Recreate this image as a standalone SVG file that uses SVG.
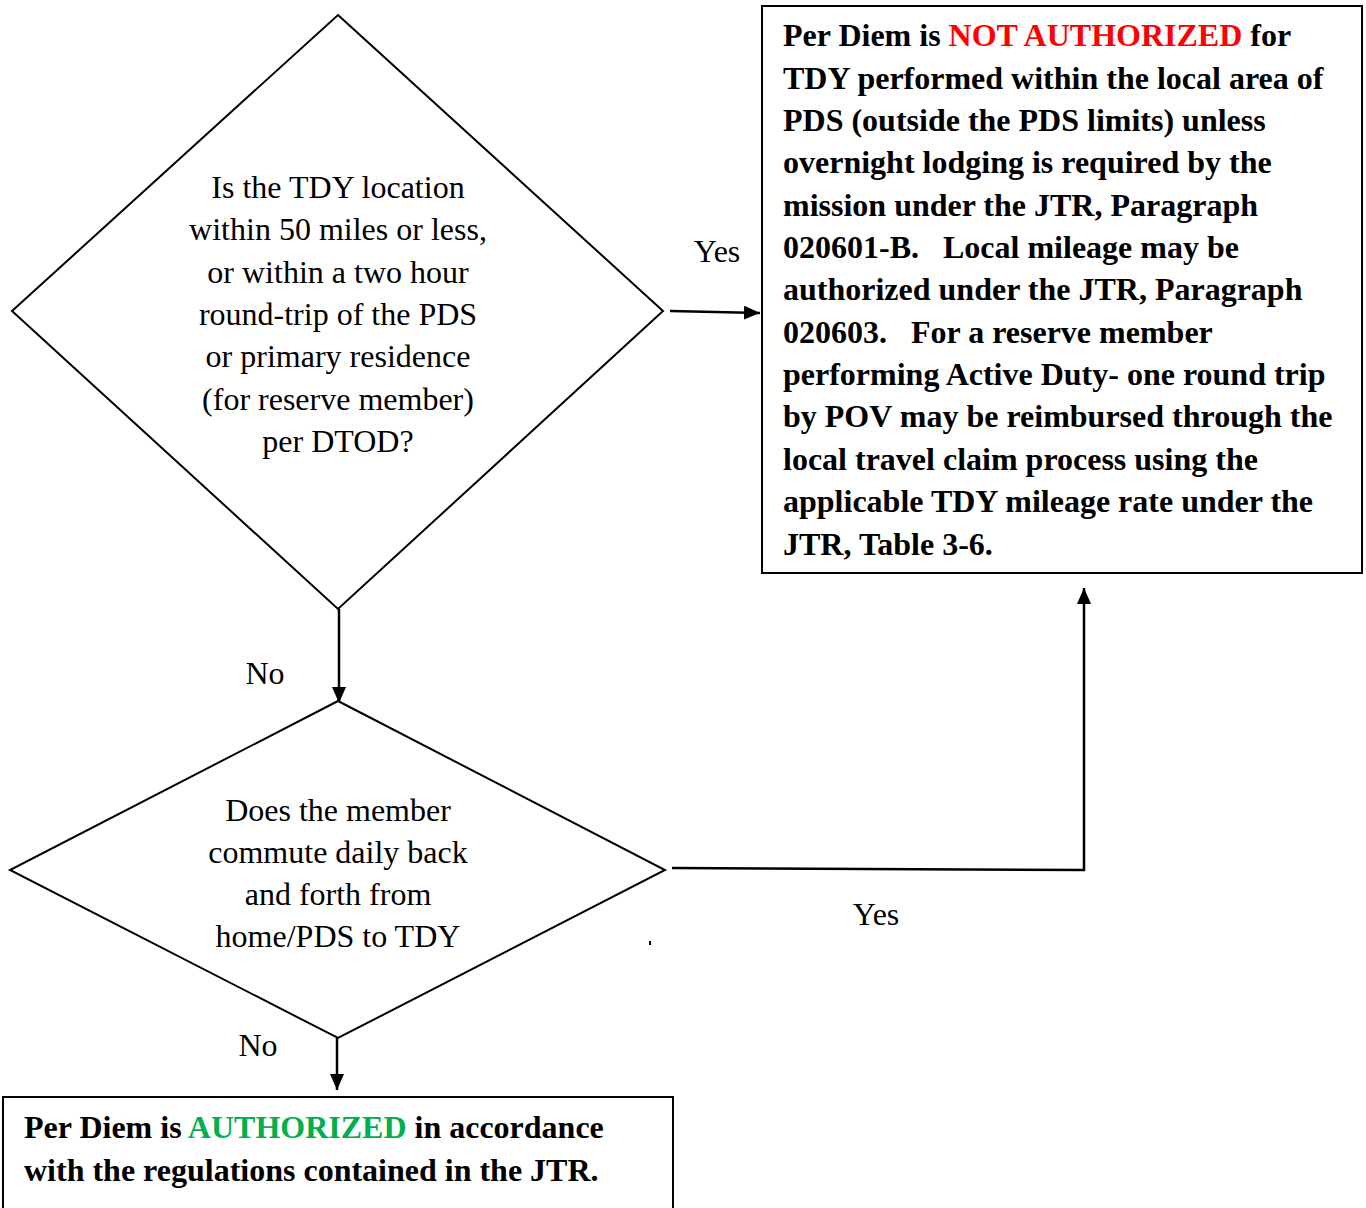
<svg xmlns="http://www.w3.org/2000/svg" width="1366" height="1208" viewBox="0 0 1366 1208">
<style>
.shape{fill:#fff;stroke:#000;stroke-width:2}
.t{font-family:"Liberation Serif","Times New Roman",serif;font-size:32px;fill:#000}
.c{text-anchor:middle}
.b{font-weight:bold}
.red{fill:#ff0000}
.green{fill:#00b050}
.conn{fill:none;stroke:#000;stroke-width:2.5}
</style>
<defs>
<marker id="arr" viewBox="0 0 16 14" refX="16" refY="7" markerWidth="16" markerHeight="14" markerUnits="userSpaceOnUse" orient="auto">
<path d="M0,0 L16,7 L0,14 z" fill="#000"/>
</marker>
</defs>
<rect width="1366" height="1208" fill="#fff"/>
<g id="connectors">
<path class="conn" d="M670,311 L760,313" marker-end="url(#arr)"/>
<path class="conn" d="M339,609 L339,703" marker-end="url(#arr)"/>
<path class="conn" d="M672,868 L1084,870 L1084,588" marker-end="url(#arr)"/>
<path class="conn" d="M337,1038 L337,1090" marker-end="url(#arr)"/>
<text class="t c" x="717" y="262">Yes</text>
<text class="t c" x="265" y="684">No</text>
<text class="t c" x="876" y="925">Yes</text>
<text class="t c" x="258" y="1056">No</text>
</g>
<g id="decision1">
<polygon class="shape" points="338,15 663,311 338,609 12,311"/>
<text class="t c" x="338" y="198">Is the TDY location</text>
<text class="t c" x="338" y="240">within 50 miles or less,</text>
<text class="t c" x="338" y="283">or within a two hour</text>
<text class="t c" x="338" y="325">round-trip of the PDS</text>
<text class="t c" x="338" y="367">or primary residence</text>
<text class="t c" x="338" y="410">(for reserve member)</text>
<text class="t c" x="338" y="452">per DTOD?</text>
</g>
<g id="decision2">
<polygon class="shape" points="338,701 665,870 338,1038 10,870"/>
<text class="t c" x="338" y="821">Does the member</text>
<text class="t c" x="338" y="863">commute daily back</text>
<text class="t c" x="338" y="905">and forth from</text>
<text class="t c" x="338" y="947">home/PDS to TDY</text>
</g>
<rect x="649" y="941" width="2" height="4" fill="#000"/>
<g id="not-authorized">
<rect class="shape" x="762" y="6" width="600" height="567"/>
<text class="t b" x="783" y="46">Per Diem is <tspan class="red">NOT AUTHORIZED</tspan> for</text>
<text class="t b" x="783" y="89">TDY performed within the local area of</text>
<text class="t b" x="783" y="131">PDS (outside the PDS limits) unless</text>
<text class="t b" x="783" y="173">overnight lodging is required by the</text>
<text class="t b" x="783" y="216">mission under the JTR, Paragraph</text>
<text class="t b" x="783" y="258" xml:space="preserve">020601-B.   Local mileage may be</text>
<text class="t b" x="783" y="300">authorized under the JTR, Paragraph</text>
<text class="t b" x="783" y="343" xml:space="preserve">020603.   For a reserve member</text>
<text class="t b" x="783" y="385">performing Active Duty- one round trip</text>
<text class="t b" x="783" y="427">by POV may be reimbursed through the</text>
<text class="t b" x="783" y="470">local travel claim process using the</text>
<text class="t b" x="783" y="512">applicable TDY mileage rate under the</text>
<text class="t b" x="783" y="555">JTR, Table 3-6.</text>
</g>
<g id="authorized">
<rect class="shape" x="3" y="1097" width="670" height="130"/>
<text class="t b" x="24" y="1138">Per Diem is <tspan class="green">AUTHORIZED</tspan> in accordance</text>
<text class="t b" x="24" y="1181">with the regulations contained in the JTR.</text>
</g>
</svg>
